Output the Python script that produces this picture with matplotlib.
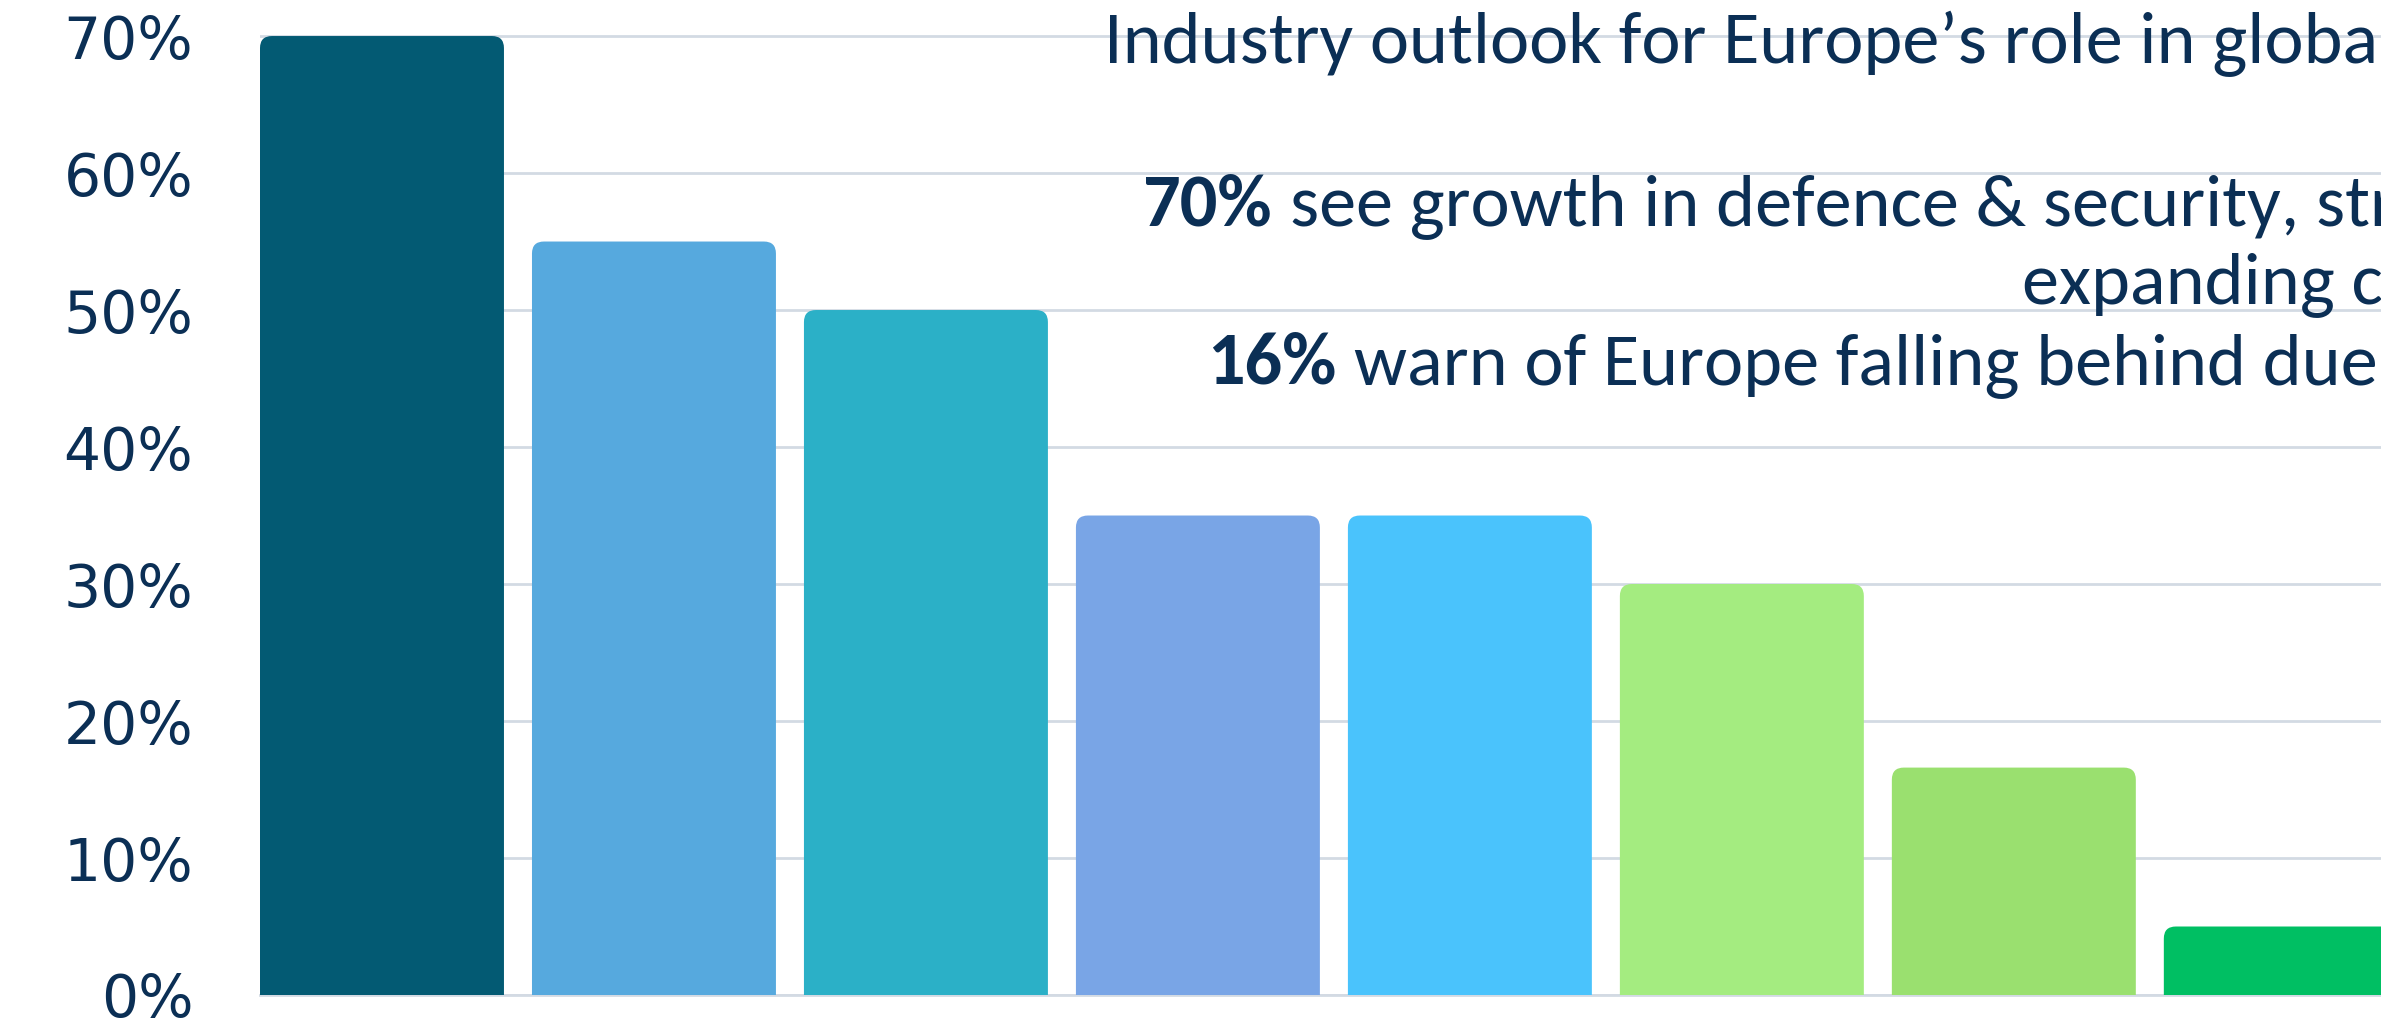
import matplotlib
matplotlib.use("Agg")
import matplotlib.pyplot as plt
from matplotlib import font_manager
from matplotlib.patches import FancyBboxPatch

# values (percent)
shares = [70, 55, 50, 35, 35, 30, 16.6, 5]
bar_colors = ["#035a73", "#56a9de", "#2bb0c7", "#79a5e6",
              "#4ac3fc", "#a4ec80", "#9ae06f", "#00bf63"]
tick_vals = [0, 10, 20, 30, 40, 50, 60, 70]
tick_labels = [f"{v}%" for v in tick_vals]

navy = "#0b2f55"
W, H = 2381, 1025

# pick a narrow-ish humanist face for the overlay text
have = {f.name for f in font_manager.fontManager.ttflist}
text_font = "DejaVu Sans"
for name in ["Carlito", "Liberation Sans Narrow", "Roboto Condensed",
             "Open Sans Condensed", "DejaVu Sans Condensed", "Lato", "Open Sans"]:
    if name in have:
        text_font = name
        break

fig = plt.figure(figsize=(W / 100, H / 100), dpi=100)
ax = fig.add_axes([260 / W, 30 / H, 1 - 260 / W, 995 / H])

xpos = list(range(len(shares)))
bars = ax.bar(xpos, shares, width=0.897, color=bar_colors, zorder=2)
ax.set_xlim(-0.4485, 7.35)
ax.set_ylim(0, 72.63)

# rounded tops, as in the original
ax_w = ax.get_position().width * W
ax_h = ax.get_position().height * H
px_x = ax_w / (7.35 + 0.4485)
px_y = ax_h / 72.63
aspect = px_x / px_y
r = 12 / px_x
for b in bars:
    p = FancyBboxPatch((b.get_x(), -2), b.get_width(), b.get_height() + 2,
                       boxstyle=f"round,pad=0,rounding_size={r}",
                       mutation_aspect=aspect, facecolor=b.get_facecolor(),
                       edgecolor="none", zorder=2)
    ax.add_patch(p)
    b.remove()

ax.set_yticks(tick_vals)
ax.set_yticklabels(tick_labels, fontsize=42, color=navy, family="DejaVu Sans")
ax.tick_params(axis="y", length=0, pad=48)
ax.set_xticks([])
ax.yaxis.grid(True, color="#d3dae3", linewidth=2)
ax.axhline(0, color="#d3dae3", linewidth=2, clip_on=False, zorder=1)
ax.set_axisbelow(True)
for s in ax.spines.values():
    s.set_visible(False)

# overlay text size: fit the "16% warn ... due" line to its width in the original
fig.canvas.draw()
probe = fig.text(0, 0, "16% warn of Europe falling behind due", fontsize=40,
                 family=text_font)
fig.canvas.draw()
fs = 40 * 1167 / probe.get_window_extent().width
probe.remove()


def put(x, y, bold, rest):
    xf, yf = x / W, 1 - y / H
    if bold:
        t = fig.text(xf, yf, bold, fontsize=fs, family=text_font, weight="bold",
                     color=navy, va="baseline", ha="left")
        fig.canvas.draw()
        bb = t.get_window_extent()
        xf = (bb.x1 + 18) / W
    fig.text(xf, yf, rest, fontsize=fs, family=text_font, color=navy,
             va="baseline", ha="left")


put(1104, 63, "", "Industry outlook for Europe\u2019s role in global")
put(1142, 225, "70%", "see growth in defence & security, str")
put(2022, 303, "", "expanding c")
put(1207, 384, "16%", "warn of Europe falling behind due")

fig.savefig("out.png", dpi=100)
